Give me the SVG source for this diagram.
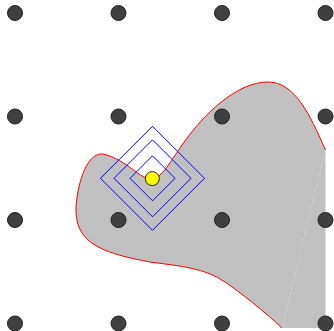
<svg xmlns="http://www.w3.org/2000/svg" width="334" height="331" viewBox="0 0 334 331">
<style>
.dot{fill:#404040;stroke:#1e1e1e;stroke-width:1}
.dia{fill:none;stroke:#0000ff;stroke-width:1}
.region{fill:#c0c0c0;stroke:none}
.edge{fill:none;stroke:#ff0000;stroke-width:1}
</style>
<rect width="334" height="331" fill="#ffffff"/>
<g id="region">
<path class="region" d="M325.5,150 C310,115 295,82 268,82 C238,82 205,112 182,145 C170,162 162,178 152,179 C140,180 128,160 103,154 C88,152 78,180 76,207 C75,240 95,252 150,262 C180,266 205,268 225,282 C240,292 265,312 282,328 Z"/>
<path class="region" d="M282,328 L325.5,328 L325.5,150 Z"/>
<path class="edge" d="M325.5,150 C310,115 295,82 268,82 C238,82 205,112 182,145 C170,162 162,178 152,179 C140,180 128,160 103,154 C88,152 78,180 76,207 C75,240 95,252 150,262 C180,266 205,268 225,282 C240,292 265,312 282,328"/>
</g>
<g id="grid">
<g id="d00"><circle class="dot" cx="15" cy="13" r="7.5"/></g>
<g id="d10"><circle class="dot" cx="118.5" cy="13" r="7.5"/></g>
<g id="d20"><circle class="dot" cx="222" cy="13" r="7.5"/></g>
<g id="d30"><circle class="dot" cx="325.5" cy="13" r="7.5"/></g>
<g id="d01"><circle class="dot" cx="15" cy="116.5" r="7.5"/></g>
<g id="d11"><circle class="dot" cx="118.5" cy="116.5" r="7.5"/></g>
<g id="d21"><circle class="dot" cx="222" cy="116.5" r="7.5"/></g>
<g id="d31"><circle class="dot" cx="325.5" cy="116.5" r="7.5"/></g>
<g id="d02"><circle class="dot" cx="15" cy="220" r="7.5"/></g>
<g id="d12"><circle class="dot" cx="118.5" cy="220" r="7.5"/></g>
<g id="d22"><circle class="dot" cx="222" cy="220" r="7.5"/></g>
<g id="d32"><circle class="dot" cx="325.5" cy="220" r="7.5"/></g>
<g id="d03"><circle class="dot" cx="15" cy="323.5" r="7.5"/></g>
<g id="d13"><circle class="dot" cx="118.5" cy="323.5" r="7.5"/></g>
<g id="d23"><circle class="dot" cx="222" cy="323.5" r="7.5"/></g>
<g id="d33"><circle class="dot" cx="325.5" cy="323.5" r="7.5"/></g>
</g>
<g id="diamonds">
<polygon class="dia" points="152.5,126.3 204.5,178.3 152.5,230.3 100.5,178.3"/>
<polygon class="dia" points="152.5,139.8 191,178.3 152.5,216.8 114,178.3"/>
<polygon class="dia" points="152.5,155.8 175,178.3 152.5,200.8 130,178.3"/>
</g>
<g id="point"><circle cx="152.3" cy="178.6" r="7" fill="#ffff00" stroke="#222222" stroke-width="1"/></g>
</svg>
